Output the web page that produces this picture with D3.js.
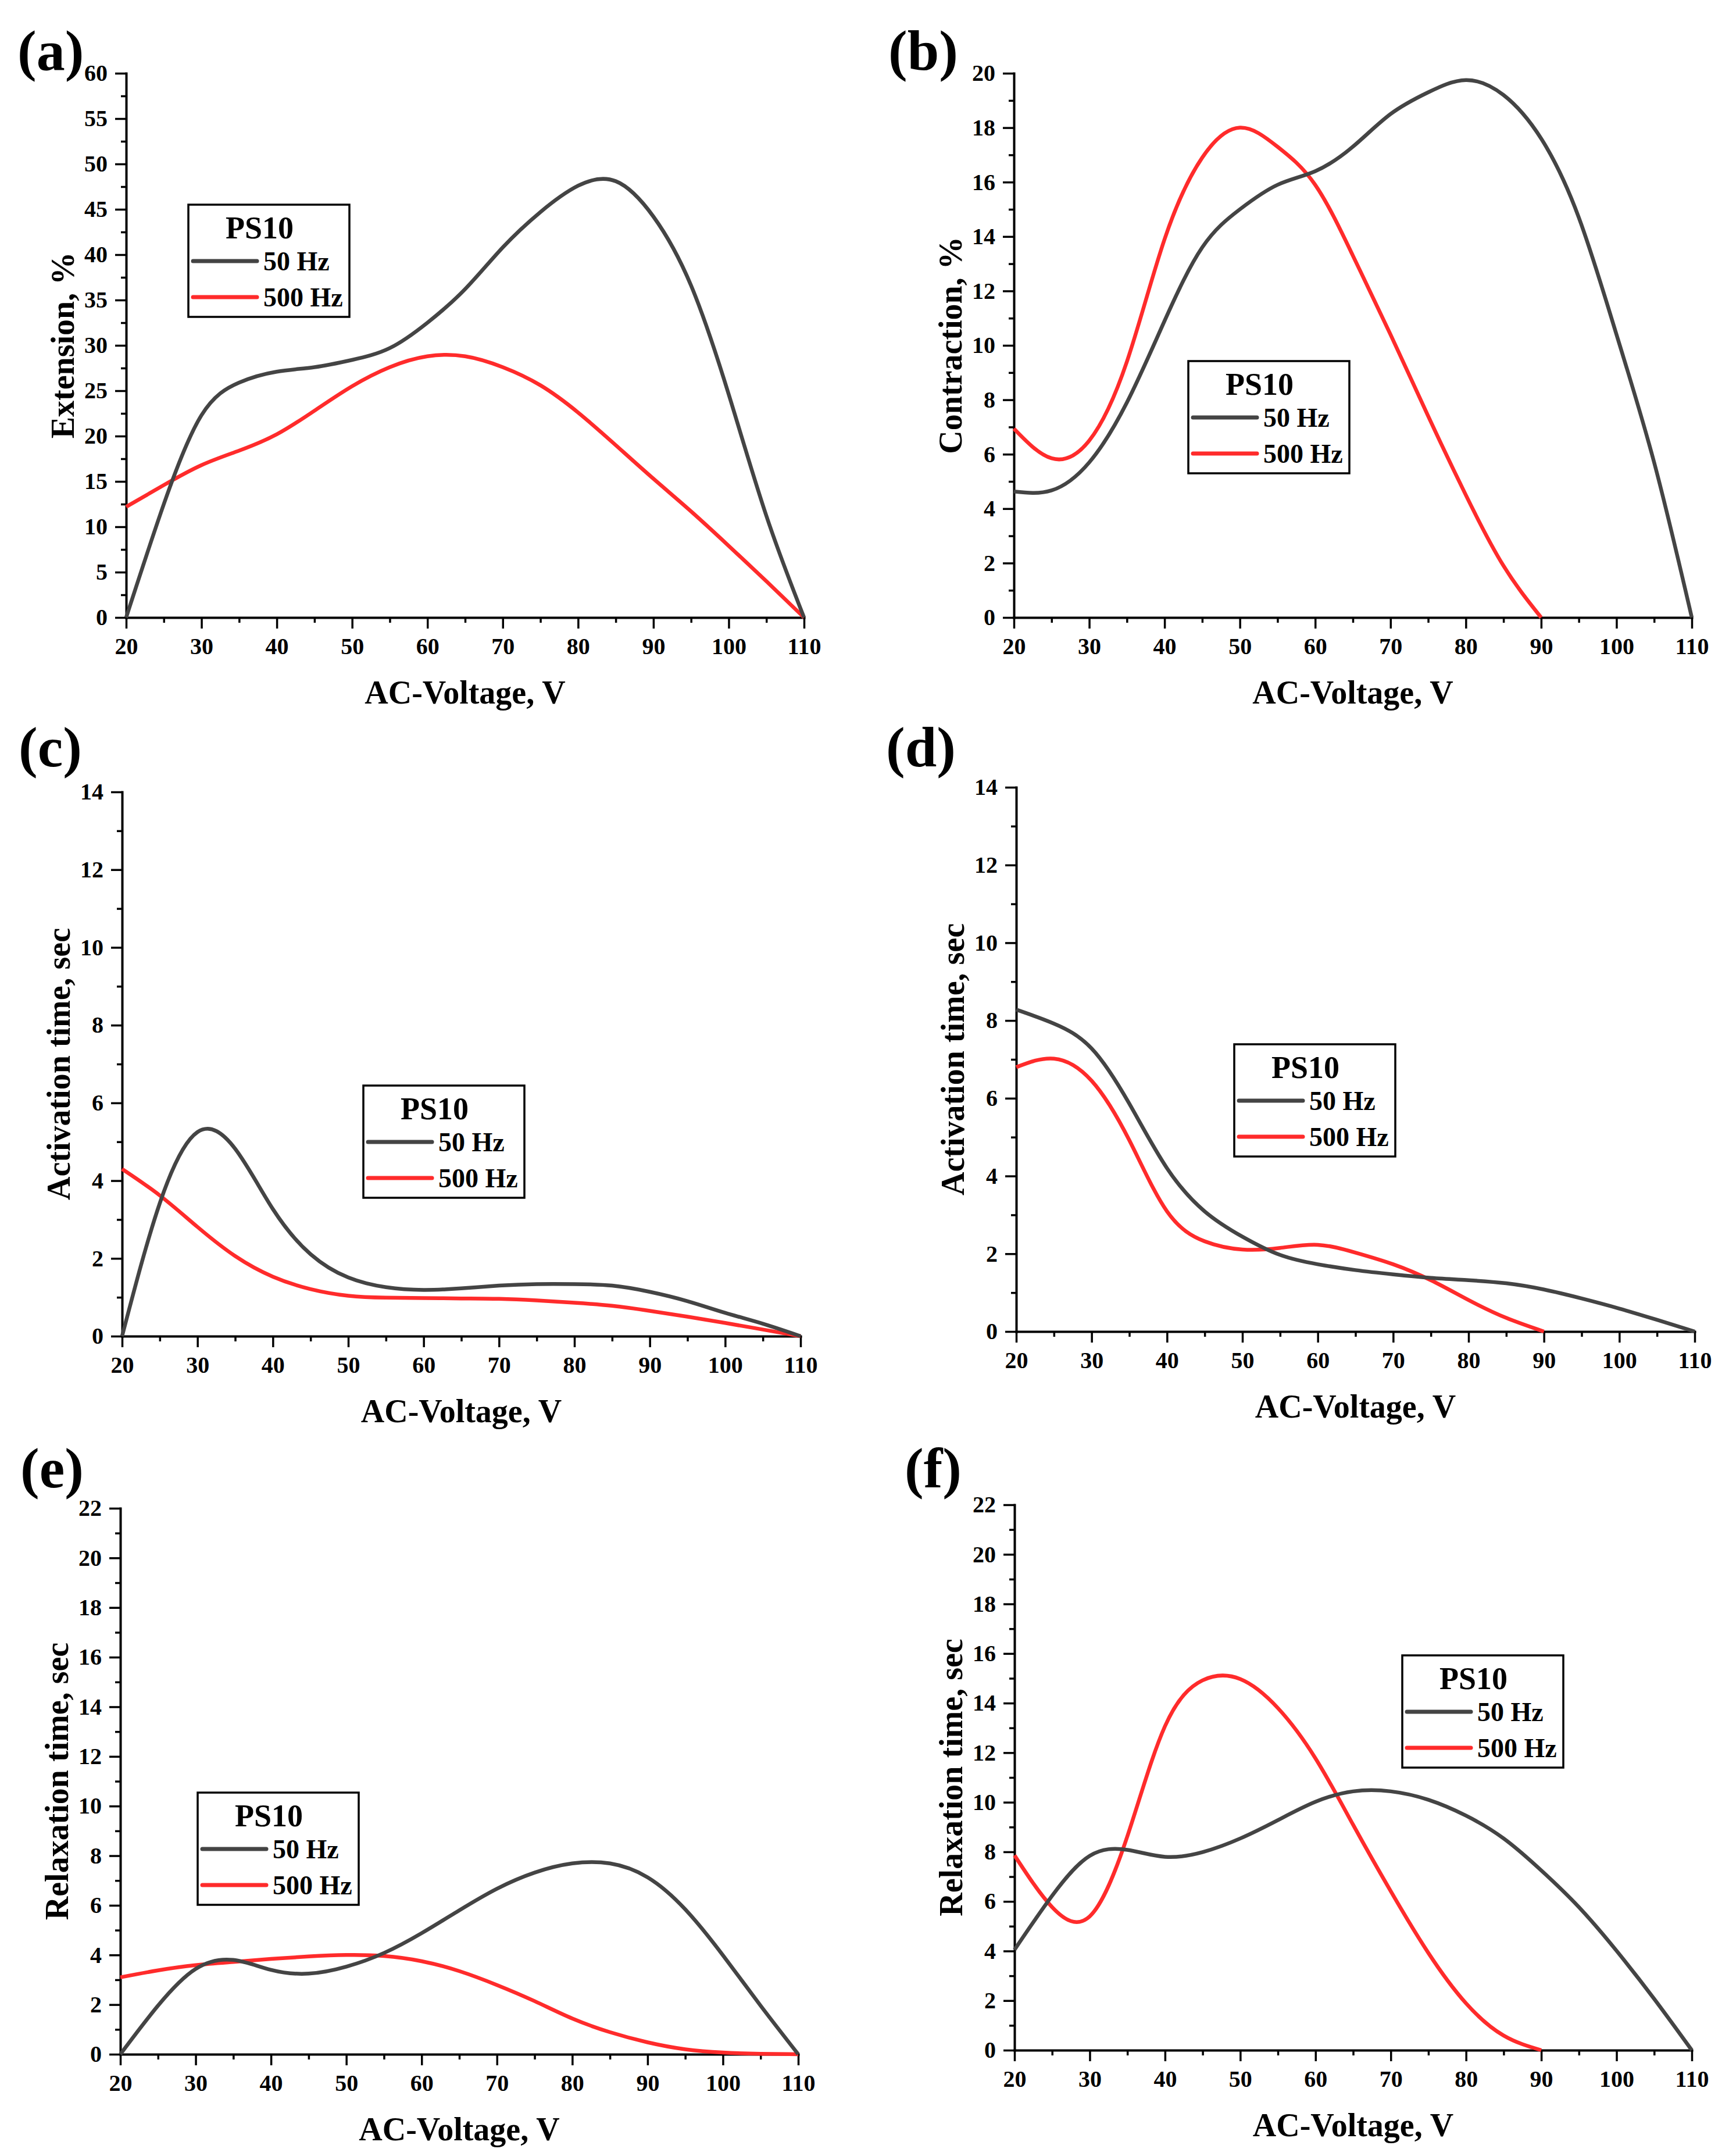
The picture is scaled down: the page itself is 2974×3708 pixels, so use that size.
<!DOCTYPE html>
<html>
<head>
<meta charset="utf-8">
<script src="https://cdn.jsdelivr.net/npm/d3@7"></script>
<style>
  html, body { margin: 0; padding: 0; background: #fff; }
  svg text { font-family: "Liberation Serif", "Times New Roman", serif; font-weight: bold; fill: #000; }
</style>
</head>
<body>
<svg id="chart" width="2974" height="3708"></svg>
<script>
// ---------- DATA ----------
const xTicks = [20, 30, 40, 50, 60, 70, 80, 90, 100, 110];
const xMinorTicks = [25, 35, 45, 55, 65, 75, 85, 95, 105];
const legendTitle = "PS10";
const seriesNames = ["50 Hz", "500 Hz"];
const xTitle = "AC-Voltage, V";
const panelLabels = ["(a)", "(b)", "(c)", "(d)", "(e)", "(f)"];
const yTitles = ["Extension, %", "Contraction, %", "Activation time, sec", "Activation time, sec", "Relaxation time, sec", "Relaxation time, sec"];

const yTicksA = [0, 5, 10, 15, 20, 25, 30, 35, 40, 45, 50, 55, 60];
const yTicksB = [0, 2, 4, 6, 8, 10, 12, 14, 16, 18, 20];
const yTicksCD = [0, 2, 4, 6, 8, 10, 12, 14];
const yTicksEF = [0, 2, 4, 6, 8, 10, 12, 14, 16, 18, 20, 22];

// voltages sampled every 5 V
const volts110 = [20, 25, 30, 35, 40, 45, 50, 55, 60, 65, 70, 75, 80, 85, 90, 95, 100, 105, 110];
const volts90  = [20, 25, 30, 35, 40, 45, 50, 55, 60, 65, 70, 75, 80, 85, 90];

// (a) Extension, %
const a50  = [0, 12.5, 22.3, 25.9, 27.1, 27.6, 28.4, 29.7, 32.5, 36.2, 40.8, 44.7, 47.6, 48.1, 44.2, 36.6, 24.6, 11.2, 0];
const a500 = [12.2, 14.6, 16.8, 18.4, 20.2, 22.8, 25.5, 27.6, 28.8, 28.8, 27.6, 25.6, 22.6, 19.0, 15.3, 11.7, 7.9, 4.0, 0];

// (b) Contraction, %
const b50  = [4.63, 4.67, 5.7, 7.9, 10.9, 13.6, 15.0, 15.9, 16.4, 17.3, 18.5, 19.3, 19.75, 19.2, 17.6, 14.7, 10.4, 5.7, 0];
const b500 = [6.94, 5.85, 6.5, 9.4, 13.9, 16.9, 18.0, 17.3, 15.9, 13.3, 10.4, 7.4, 4.5, 1.9, 0];

// (c) Activation time, sec
const c50  = [0, 3.42, 5.25, 4.82, 3.27, 2.11, 1.51, 1.26, 1.19, 1.23, 1.3, 1.34, 1.34, 1.3, 1.14, 0.9, 0.6, 0.32, 0];
const c500 = [4.3, 3.62, 2.81, 2.06, 1.53, 1.21, 1.04, 0.99, 0.98, 0.97, 0.96, 0.92, 0.86, 0.78, 0.65, 0.5, 0.34, 0.17, 0];

// (d) Activation time, sec
const d50  = [8.28, 7.92, 7.28, 5.86, 4.2, 3.09, 2.44, 1.97, 1.73, 1.58, 1.47, 1.38, 1.32, 1.24, 1.08, 0.85, 0.59, 0.3, 0];
const d500 = [6.8, 7.02, 6.45, 4.92, 3.09, 2.32, 2.11, 2.15, 2.23, 2.03, 1.73, 1.32, 0.81, 0.35, 0];

// (e) Relaxation time, sec
const e50  = [0, 1.96, 3.44, 3.8, 3.4, 3.25, 3.53, 4.08, 4.88, 5.8, 6.67, 7.32, 7.69, 7.69, 7.13, 5.84, 3.99, 1.96, 0];
const e500 = [3.1, 3.38, 3.59, 3.72, 3.84, 3.94, 4.0, 3.96, 3.75, 3.35, 2.79, 2.14, 1.44, 0.89, 0.48, 0.2, 0.07, 0.02, 0];

// (f) Relaxation time, sec
const f50  = [4.05, 6.23, 7.84, 8.08, 7.8, 7.99, 8.54, 9.28, 10.02, 10.44, 10.44, 10.1, 9.46, 8.54, 7.25, 5.77, 4.01, 2.07, 0];
const f500 = [7.86, 5.77, 5.4, 8.63, 13.07, 14.92, 14.97, 13.8, 11.77, 9.09, 6.41, 3.92, 1.89, 0.59, 0];

// ---------- LAYOUT ----------
const panels = [
  { label: panelLabels[0], yTitle: yTitles[0], yMax: 60, yTicks: yTicksA, yMinorStep: 2.5,
    x0: 217, x1: 1383, y0: 1062, y1: 126, lab: [30, 120], leg: [324, 352],
    s50: [volts110, a50], s500: [volts110, a500] },
  { label: panelLabels[1], yTitle: yTitles[1], yMax: 20, yTicks: yTicksB, yMinorStep: 1,
    x0: 1744, x1: 2910, y0: 1062, y1: 126, lab: [1528, 120], leg: [2044, 621],
    s50: [volts110, b50], s500: [volts90, b500] },
  { label: panelLabels[2], yTitle: yTitles[2], yMax: 14, yTicks: yTicksCD, yMinorStep: 1,
    x0: 210, x1: 1377, y0: 2298, y1: 1362, lab: [32, 1318], leg: [625, 1867],
    s50: [volts110, c50], s500: [volts110, c500] },
  { label: panelLabels[3], yTitle: yTitles[3], yMax: 14, yTicks: yTicksCD, yMinorStep: 1,
    x0: 1748, x1: 2915, y0: 2290, y1: 1354, lab: [1524, 1318], leg: [2123, 1796],
    s50: [volts110, d50], s500: [volts90, d500] },
  { label: panelLabels[4], yTitle: yTitles[4], yMax: 22, yTicks: yTicksEF, yMinorStep: 1,
    x0: 207, x1: 1373, y0: 3533, y1: 2594, lab: [35, 2558], leg: [340, 3083],
    s50: [volts110, e50], s500: [volts110, e500] },
  { label: panelLabels[5], yTitle: yTitles[5], yMax: 22, yTicks: yTicksEF, yMinorStep: 1,
    x0: 1745, x1: 2910, y0: 3526, y1: 2588, lab: [1556, 2558], leg: [2412, 2847],
    s50: [volts110, f50], s500: [volts90, f500] }
];

const GRAY = "#444444";
const RED = "#ff2b2b";

const svg = d3.select("#chart");
svg.append("rect").attr("width", 2974).attr("height", 3708).attr("fill", "#fff");

panels.forEach(p => {
  const x = d3.scaleLinear().domain([20, 110]).range([p.x0, p.x1]);
  const y = d3.scaleLinear().domain([0, p.yMax]).range([p.y0, p.y1]);
  const g = svg.append("g");

  // minor ticks
  const yMinor = d3.range(p.yMinorStep, p.yMax, p.yMinorStep).filter(v => !p.yTicks.includes(v));
  g.append("g").attr("transform", `translate(0,${p.y0})`)
    .call(d3.axisBottom(x).tickValues(xMinorTicks).tickSize(9).tickSizeOuter(0).tickFormat(""))
    .call(s => s.select(".domain").remove())
    .call(s => s.selectAll("line").attr("stroke", "#000").attr("stroke-width", 3.5));
  g.append("g").attr("transform", `translate(${p.x0},0)`)
    .call(d3.axisLeft(y).tickValues(yMinor).tickSize(9).tickSizeOuter(0).tickFormat(""))
    .call(s => s.select(".domain").remove())
    .call(s => s.selectAll("line").attr("stroke", "#000").attr("stroke-width", 3.5));

  // major axes
  const xa = g.append("g").attr("transform", `translate(0,${p.y0})`)
    .call(d3.axisBottom(x).tickValues(xTicks).tickSize(19).tickSizeOuter(0).tickPadding(16).tickFormat(d3.format("d")));
  const ya = g.append("g").attr("transform", `translate(${p.x0},0)`)
    .call(d3.axisLeft(y).tickValues(p.yTicks).tickSize(19).tickSizeOuter(0).tickPadding(13).tickFormat(d3.format("d")));
  [xa, ya].forEach(a => {
    a.attr("font-family", null);
    a.select(".domain").attr("stroke", "#000").attr("stroke-width", 4).attr("stroke-linecap", "square");
    a.selectAll(".tick line").attr("stroke", "#000").attr("stroke-width", 3.5);
    a.selectAll(".tick text").attr("font-size", 40).attr("fill", "#000");
  });

  // titles
  g.append("text").attr("x", (p.x0 + p.x1) / 2).attr("y", p.y0 + 148)
    .attr("text-anchor", "middle").attr("font-size", 56).text(xTitle);
  g.append("text")
    .attr("transform", `translate(${p.x0 - 90},${(p.y0 + p.y1) / 2}) rotate(-90)`)
    .attr("text-anchor", "middle").attr("font-size", 56).text(p.yTitle);
  g.append("text").attr("x", p.lab[0]).attr("y", p.lab[1]).attr("font-size", 98).text(p.label);

  // lines (natural cubic spline through the sampled points)
  const line = d3.line().x(d => x(d[0])).y(d => y(d[1])).curve(d3.curveNatural);
  const pts50 = p.s50[0].map((v, i) => [v, p.s50[1][i]]);
  const pts500 = p.s500[0].map((v, i) => [v, p.s500[1][i]]);
  g.append("path").datum(pts500).attr("d", line).attr("fill", "none")
    .attr("stroke", RED).attr("stroke-width", 6.5).attr("stroke-linejoin", "round");
  g.append("path").datum(pts50).attr("d", line).attr("fill", "none")
    .attr("stroke", GRAY).attr("stroke-width", 6.5).attr("stroke-linejoin", "round");

  // legend
  const lg = g.append("g").attr("transform", `translate(${p.leg[0]},${p.leg[1]})`);
  lg.append("rect").attr("x", 0).attr("y", 0).attr("width", 277).attr("height", 193)
    .attr("fill", "#fff").attr("stroke", "#000").attr("stroke-width", 3.5);
  lg.append("text").attr("x", 64).attr("y", 58).attr("font-size", 54).text(legendTitle);
  [[GRAY, 97, seriesNames[0]], [RED, 159, seriesNames[1]]].forEach(([c, yy, t]) => {
    lg.append("line").attr("x1", 8).attr("x2", 118).attr("y1", yy).attr("y2", yy)
      .attr("stroke", c).attr("stroke-width", 7).attr("stroke-linecap", "round");
    lg.append("text").attr("x", 129).attr("y", yy + 16).attr("font-size", 46).text(t);
  });
});
</script>
</body>
</html>
